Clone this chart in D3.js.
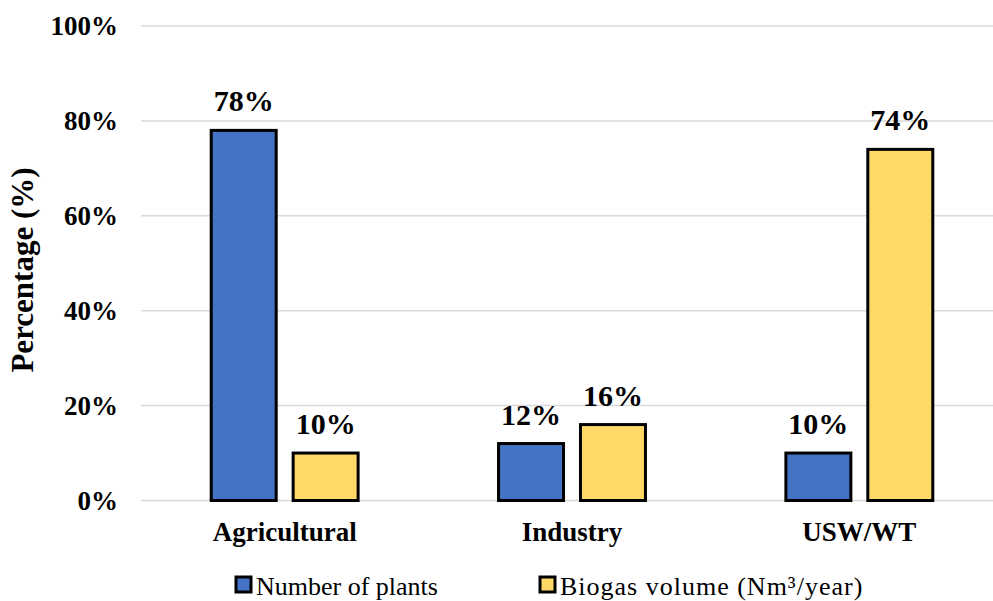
<!DOCTYPE html>
<html>
<head>
<meta charset="utf-8">
<script src="https://cdn.jsdelivr.net/npm/d3@7/dist/d3.min.js"></script>
<style>
  html, body { margin: 0; padding: 0; background: #fff; }
  svg { display: block; font-family: "Liberation Serif", "Times New Roman", serif; }
</style>
</head>
<body>
<svg id="chart" width="993" height="601"></svg>
<script>
// Share of biogas plants and biogas volume by sector
const categories = ["Agricultural", "Industry", "USW/WT"];
const seriesNames = ["Number of plants", "Biogas volume (Nm\u00B3/year)"];
const plantsShare = [78, 12, 10];
const volumeShare = [10, 16, 74];
const yTicks = [0, 20, 40, 60, 80, 100];
const colors = ["#4472C4", "#FFD966"];

const series = [plantsShare, volumeShare];
const serif = "Liberation Serif, Times New Roman, serif";

const svg = d3.select("#chart");

const x = d3.scaleBand().domain(categories).range([141, 1003]).paddingInner(0).paddingOuter(0);
const xSub = d3.scaleBand().domain(d3.range(series.length)).range([0, x.bandwidth()])
  .paddingInner(0.207).paddingOuter(0.857);
const y = d3.scaleLinear().domain([0, 100]).range([500.5, 26]);

// Horizontal gridlines
svg.append("g")
  .selectAll("line")
  .data(yTicks)
  .join("line")
  .attr("x1", 141).attr("x2", 993)
  .attr("y1", d => y(d)).attr("y2", d => y(d))
  .attr("stroke", "#d9d9d9").attr("stroke-width", 1.5);

// Y axis labels
const yAxis = d3.axisLeft(y).tickValues(yTicks).tickFormat(d => d + "%").tickSize(0).tickPadding(0);
const yg = svg.append("g").attr("transform", "translate(118,0)").call(yAxis)
  .attr("font-family", serif);
yg.select(".domain").remove();
yg.selectAll("text")
  .attr("font-size", 27).attr("font-weight", "bold").attr("fill", "#000");

// X axis labels
const xAxis = d3.axisBottom(x).tickSize(0).tickPadding(0);
const xg = svg.append("g").attr("transform", "translate(0,522)").call(xAxis)
  .attr("font-family", serif);
xg.select(".domain").remove();
xg.selectAll("text")
  .attr("font-size", 27).attr("font-weight", "bold").attr("fill", "#000");

// Bars
const groups = svg.append("g")
  .selectAll("g")
  .data(categories)
  .join("g")
  .attr("transform", c => `translate(${x(c)},0)`);

groups.selectAll("rect")
  .data((c, i) => series.map((s, k) => ({ k, v: s[i] })))
  .join("rect")
  .attr("x", d => xSub(d.k))
  .attr("width", xSub.bandwidth())
  .attr("y", d => y(d.v))
  .attr("height", d => y(0) - y(d.v))
  .attr("fill", d => colors[d.k])
  .attr("stroke", "#000").attr("stroke-width", 3);

// Value labels
groups.selectAll("text")
  .data((c, i) => series.map((s, k) => ({ k, v: s[i] })))
  .join("text")
  .attr("x", d => xSub(d.k) + xSub.bandwidth() / 2)
  .attr("y", d => y(d.v) - 19)
  .attr("text-anchor", "middle")
  .attr("font-size", 30).attr("font-weight", "bold").attr("fill", "#000")
  .text(d => d.v + "%");

// Y axis title
svg.append("text")
  .attr("transform", "translate(33,270) rotate(-90)")
  .attr("text-anchor", "middle")
  .attr("font-size", 31).attr("font-weight", "bold").attr("fill", "#000")
  .text("Percentage (%)");

// Legend
const legendX = [236, 540];
const legendSpacing = [0, 1];
const legend = svg.append("g")
  .selectAll("g")
  .data(seriesNames)
  .join("g")
  .attr("transform", (d, i) => `translate(${legendX[i]},577)`);

legend.append("rect")
  .attr("x", 0).attr("y", 0).attr("width", 15).attr("height", 15)
  .attr("fill", (d, i) => colors[i])
  .attr("stroke", "#000").attr("stroke-width", 3);

legend.append("text")
  .attr("x", 20).attr("y", 18)
  .attr("font-size", 26).attr("fill", "#000")
  .attr("letter-spacing", (d, i) => legendSpacing[i])
  .text(d => d);
</script>
</body>
</html>
